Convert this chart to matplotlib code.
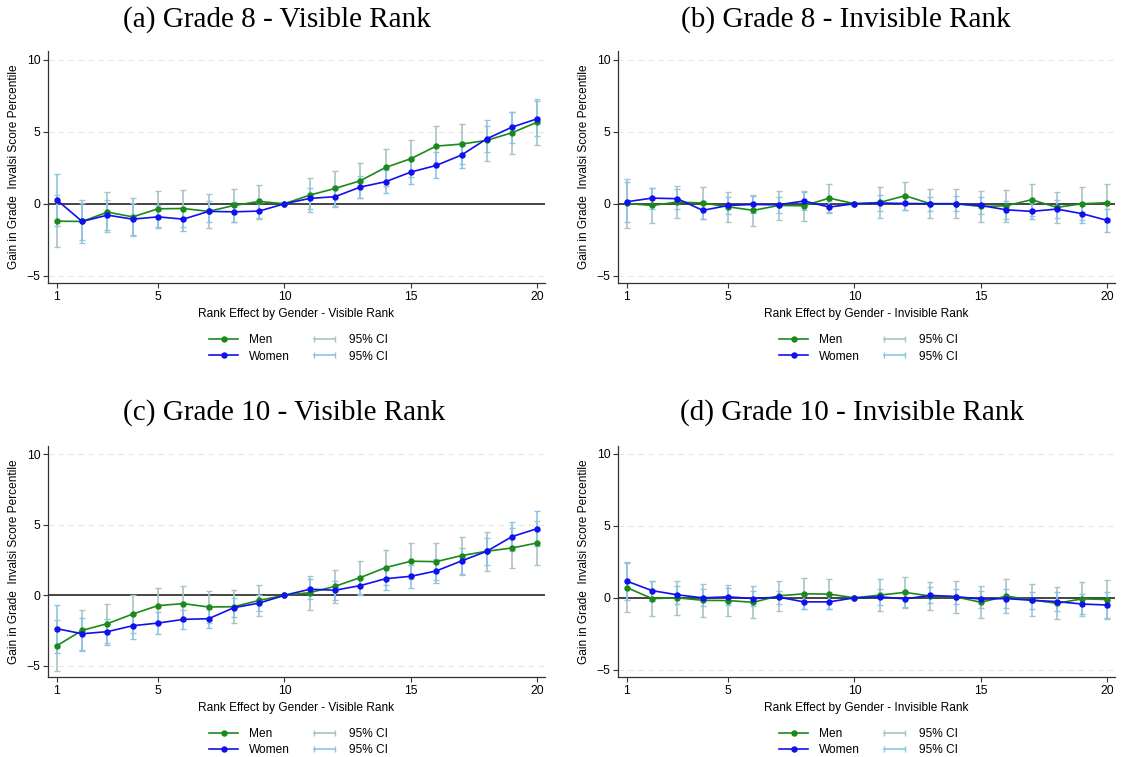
import numpy as np
import matplotlib.pyplot as plt
from matplotlib.lines import Line2D
from matplotlib.legend_handler import HandlerLine2D

plt.rcParams['font.family'] = ['Liberation Sans', 'DejaVu Sans']

# ---------------------------------------------------------------------------
# Data
# ---------------------------------------------------------------------------
ranks = list(range(1, 21))

# (a) Grade 8 - Visible Rank
a_men = [-1.21, -1.23, -0.58, -0.91, -0.35, -0.33, -0.53, -0.12, 0.16, 0.0,
         0.60, 1.06, 1.60, 2.52, 3.13, 4.00, 4.14, 4.40, 4.93, 5.67]
a_women = [0.26, -1.23, -0.79, -1.07, -0.91, -1.07, -0.53, -0.56, -0.51, 0.0,
           0.37, 0.49, 1.16, 1.53, 2.20, 2.66, 3.38, 4.51, 5.32, 5.90]
a_men_ci = [1.80, 1.50, 1.38, 1.30, 1.25, 1.28, 1.18, 1.17, 1.12, 0.0,
            1.20, 1.20, 1.20, 1.30, 1.27, 1.37, 1.40, 1.40, 1.45, 1.60]
a_women_ci = [1.80, 1.30, 1.05, 1.12, 0.80, 0.80, 0.73, 0.70, 0.56, 0.0,
              0.70, 0.70, 0.74, 0.80, 0.83, 0.90, 0.93, 0.90, 1.07, 1.22]

# (b) Grade 8 - Invisible Rank
b_men = [0.02, -0.12, 0.12, 0.05, -0.21, -0.46, -0.12, -0.14, 0.39, 0.0,
         0.09, 0.56, 0.0, 0.0, -0.19, -0.14, 0.28, -0.25, 0.0, 0.07]
b_women = [0.14, 0.39, 0.35, -0.46, -0.12, -0.05, -0.07, 0.19, -0.23, 0.0,
           0.05, 0.02, 0.0, 0.0, -0.12, -0.42, -0.53, -0.37, -0.69, -1.16]
b_men_ci = [1.70, 1.20, 1.13, 1.13, 1.05, 1.06, 1.02, 1.04, 0.98, 0.0,
            1.10, 0.97, 1.02, 1.02, 1.05, 1.10, 1.11, 1.08, 1.13, 1.32]
b_women_ci = [1.40, 0.72, 0.68, 0.63, 0.56, 0.60, 0.56, 0.60, 0.44, 0.0,
              0.53, 0.48, 0.49, 0.53, 0.56, 0.64, 0.56, 0.62, 0.68, 0.83]

# (c) Grade 10 - Visible Rank
c_men = [-3.58, -2.49, -2.01, -1.33, -0.73, -0.59, -0.83, -0.81, -0.36, 0.0,
         0.19, 0.64, 1.26, 1.97, 2.42, 2.39, 2.82, 3.13, 3.36, 3.72]
c_women = [-2.37, -2.73, -2.58, -2.16, -1.97, -1.71, -1.66, -0.88, -0.55, 0.0,
           0.43, 0.36, 0.69, 1.18, 1.35, 1.73, 2.44, 3.13, 4.17, 4.74]
c_men_ci = [1.80, 1.47, 1.37, 1.33, 1.23, 1.25, 1.16, 1.17, 1.12, 0.0,
            1.20, 1.18, 1.20, 1.25, 1.28, 1.31, 1.35, 1.38, 1.44, 1.59]
c_women_ci = [1.70, 1.13, 0.93, 0.92, 0.78, 0.68, 0.66, 0.66, 0.56, 0.0,
              0.70, 0.68, 0.69, 0.78, 0.80, 0.85, 0.90, 0.97, 1.00, 1.21]

# (d) Grade 10 - Invisible Rank
d_men = [0.71, -0.05, 0.0, -0.17, -0.19, -0.31, 0.14, 0.28, 0.26, 0.0,
         0.19, 0.38, 0.12, 0.07, -0.31, 0.12, -0.14, -0.38, -0.07, -0.12]
d_women = [1.16, 0.50, 0.21, 0.0, 0.07, -0.05, 0.05, -0.28, -0.28, 0.0,
           0.07, -0.07, 0.17, 0.09, -0.09, -0.05, -0.17, -0.26, -0.43, -0.50]
d_men_ci = [1.70, 1.22, 1.16, 1.14, 1.09, 1.10, 1.02, 1.07, 1.02, 0.0,
            1.11, 1.07, 0.97, 1.09, 1.12, 1.18, 1.09, 1.11, 1.16, 1.35]
d_women_ci = [1.30, 0.70, 0.64, 0.60, 0.58, 0.55, 0.45, 0.50, 0.50, 0.0,
              0.55, 0.55, 0.55, 0.55, 0.60, 0.65, 0.60, 0.65, 0.68, 0.90]

titles = ["(a) Grade 8 - Visible Rank", "(b) Grade 8 - Invisible Rank",
          "(c) Grade 10 - Visible Rank", "(d) Grade 10 - Invisible Rank"]
xlabels = ["Rank Effect by Gender - Visible Rank",
           "Rank Effect by Gender - Invisible Rank"] * 2
ylabel = "Gain in Grade  Invalsi Score Percentile"
xticks = [1, 5, 10, 15, 20]
yticks = [-5, 0, 5, 10]

MEN_COL = "#1a8a1a"
WOMEN_COL = "#1010f0"
MEN_CI_COL = "#a9c4c4"
WOMEN_CI_COL = "#8cc3e6"

W, H = 1122, 757

# pixel boxes: left, top, right, bottom ; ylim
panels = [
    (a_men, a_women, a_men_ci, a_women_ci, (48, 51, 545, 283), (-5.5, 10.6)),
    (b_men, b_women, b_men_ci, b_women_ci, (618, 51, 1115, 283), (-5.5, 10.6)),
    (c_men, c_women, c_men_ci, c_women_ci, (48, 446, 545, 677), (-5.8, 10.6)),
    (d_men, d_women, d_men_ci, d_women_ci, (618, 446, 1115, 677), (-5.5, 10.55)),
]
title_pos = [(277, 20), (846, 20), (284, 413), (852, 413)]

fig = plt.figure(figsize=(W / 100, H / 100), dpi=100)
fig.patch.set_facecolor("white")

for i, (men, women, men_ci, women_ci, box, ylim) in enumerate(panels):
    l, t, r, b = box
    ax = fig.add_axes([l / W, 1 - b / H, (r - l) / W, (b - t) / H])
    x = np.array(ranks)
    men = np.array(men); women = np.array(women)
    men_ci = np.array(men_ci); women_ci = np.array(women_ci)

    # dashed grid + zero line
    for yv in [-5, 5, 10]:
        ax.axhline(yv, color="#e6e6e6", lw=0.8, ls=(0, (5, 4)), zorder=0)
    ax.axhline(0, color="#444444", lw=1.4, zorder=1)

    m = men_ci > 0
    ax.errorbar(x[m], men[m], yerr=men_ci[m], fmt="none", ecolor=MEN_CI_COL,
                elinewidth=1.2, capsize=2.5, capthick=1.0, zorder=2)
    m = women_ci > 0
    ax.errorbar(x[m], women[m], yerr=women_ci[m], fmt="none", ecolor=WOMEN_CI_COL,
                elinewidth=1.2, capsize=2.5, capthick=1.0, zorder=2)

    ax.plot(x, men, color=MEN_COL, marker="o", ms=3.6, lw=1.2, zorder=3)
    ax.plot(x, women, color=WOMEN_COL, marker="o", ms=3.6, lw=1.2, zorder=4)

    ax.set_xlim(0.65, 20.3)
    ax.set_ylim(*ylim)
    ax.set_xticks(xticks)
    ax.set_yticks(yticks)
    ax.tick_params(labelsize=8.8, length=3.5, width=0.8, color="#333333", pad=2)
    for s in ["top", "right"]:
        ax.spines[s].set_visible(False)
    for s in ["left", "bottom"]:
        ax.spines[s].set_color("#333333")
        ax.spines[s].set_linewidth(0.9)

    ax.set_xlabel(xlabels[i], fontsize=8.6, labelpad=4)
    ax.set_ylabel(ylabel, fontsize=8.6, labelpad=5)

    tx, ty = title_pos[i]
    fig.text(tx / W, 1 - ty / H, titles[i], family="Liberation Serif",
             fontsize=21, ha="center", va="center")

    h_men = Line2D([], [], color=MEN_COL, marker="o", ms=3.6, lw=1.2)
    h_women = Line2D([], [], color=WOMEN_COL, marker="o", ms=3.6, lw=1.2)
    h_mci = Line2D([], [], color=MEN_CI_COL, marker="|", ms=5, lw=1.2)
    h_wci = Line2D([], [], color=WOMEN_CI_COL, marker="|", ms=5, lw=1.2)
    ax.legend([h_men, h_women, h_mci, h_wci],
              ["Men", "Women", "95% CI", "95% CI"],
              ncol=2, loc="upper center", bbox_to_anchor=(0.505, -0.175),
              frameon=False, fontsize=8.6, handlelength=2.4, handletextpad=0.9,
              columnspacing=1.7, labelspacing=0.35, numpoints=1,
              handler_map={h_mci: HandlerLine2D(numpoints=2),
                           h_wci: HandlerLine2D(numpoints=2)})

fig.savefig("out.png", dpi=100)
